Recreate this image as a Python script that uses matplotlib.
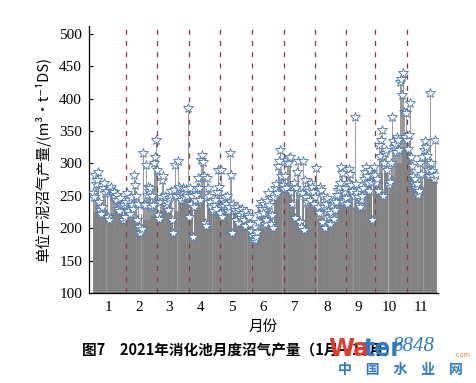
import numpy as np
import matplotlib.pyplot as plt

plt.switch_backend('Agg')
plt.rcParams['font.family'] = ['Noto Sans CJK SC', 'DejaVu Sans']

# daily biogas yield per dry solids, m3/t DS
jan = [255, 248, 282, 268, 275, 286, 240, 228, 222, 232, 262, 270, 255, 258, 218, 212,
       260, 264, 258, 250, 256, 248, 244, 252, 230, 226, 246, 236, 238, 212, 236]
feb = [218, 240, 254, 226, 244, 222, 248, 236, 230, 282, 266, 250, 212, 238, 202, 192,
       198, 316, 238, 236, 298, 252, 264, 258, 262, 232, 250, 236]
mar = [300, 310, 336, 290, 220, 214, 241, 248, 275, 280, 244, 250, 236, 240, 228, 246,
       252, 258, 212, 192, 259, 298, 249, 303, 264, 250, 244, 256, 262, 248, 254]
apr = [260, 250, 385, 218, 262, 238, 250, 187, 232, 244, 252, 262, 277, 262, 244, 305,
       313, 302, 280, 208, 204, 278, 262, 250, 240, 232, 226, 236, 244, 230]
may = [256, 290, 264, 223, 290, 218, 244, 234, 248, 238, 250, 226, 232, 316, 282, 192,
       238, 232, 228, 212, 233, 208, 228, 220, 216, 230, 224, 212, 204, 226, 220]
jun = [218, 206, 196, 188, 184, 190, 182, 186, 194, 210, 222, 232, 240, 230, 224, 238,
       206, 212, 242, 254, 236, 222, 206, 220, 200, 248, 262, 268, 254, 296]
jul = [304, 321, 280, 266, 260, 280, 262, 305, 300, 308, 310, 256, 238, 264, 270, 215,
       262, 287, 303, 256, 210, 202, 254, 303, 197, 275, 248, 240, 262, 258, 244]
aug = [269, 264, 256, 238, 248, 293, 232, 223, 264, 259, 210, 250, 232, 200, 238, 246,
       226, 218, 206, 224, 236, 242, 214, 228, 240, 252, 259, 264, 270, 295, 285]
sep = [240, 256, 262, 246, 238, 270, 292, 284, 266, 258, 250, 371, 268, 254, 248, 236,
       232, 244, 250, 262, 276, 286, 294, 280, 270, 258, 290, 272, 213, 282]
oct_ = [295, 282, 269, 276, 258, 329, 312, 336, 352, 249, 300, 316, 321, 290, 267, 272,
        300, 372, 334, 326, 330, 318, 340, 336, 320, 426, 431, 406, 439, 380, 340]
nov = [378, 336, 322, 344, 393, 310, 296, 280, 270, 276, 262, 268, 251, 258, 300, 284,
       310, 320, 334, 326, 312, 290, 280, 408, 300, 288, 280, 276, 336, 282]

# weekly level of the grey bars (7-day blocks, last block 5 days)
weekly = [226, 230, 224, 232, 228, 215, 222, 212, 220, 228, 232, 226, 252, 240, 232, 245,
          235, 230, 235, 228, 215, 205, 192, 200, 205, 255, 262, 258, 245, 232, 240, 215,
          205, 210, 240, 238, 232, 230, 255, 262, 285, 280, 300, 325, 278, 265, 280, 275]

month_labels = ['1', '2', '3', '4', '5', '6', '7', '8', '9', '10', '11']
month_days = [31, 28, 31, 30, 31, 30, 31, 31, 30, 31, 30]
divider_days = [33, 63, 94, 124, 155, 186, 216.5, 246.5, 275, 306]

daily = np.array(jan + feb + mar + apr + may + jun + jul + aug + sep + oct_ + nov, dtype=float)
days = np.arange(1, len(daily) + 1)
weekly = np.array(weekly, dtype=float)

fig = plt.figure(figsize=(4.76, 3.83), dpi=100)
ax = fig.add_axes([0.187, 0.235, 0.733, 0.697])

# weekly grey bars
week_start = np.arange(len(weekly)) * 7 + 0.5
week_width = np.minimum(7, len(daily) + 0.5 - week_start)
ax.bar(week_start, weekly - 100, width=week_width, bottom=100, align='edge',
       color='#979797', edgecolor='#b0b0b0', linewidth=0.6, zorder=1)

# daily stems
bar_level = weekly[(days - 1) // 7]
ax.vlines(days, 100, daily, color='#7d7d7d', linewidth=0.55, zorder=2)
low = daily < bar_level
ax.vlines(days[low], daily[low], bar_level[low], color='white', linewidth=0.7, zorder=2)

# month dividers
for d in divider_days:
    ax.axvline(d, color='#8a3a3a', linestyle=(0, (4, 5)), linewidth=0.9, zorder=3)

ax.plot(days, daily, linestyle='none', marker='*', markersize=7,
        markerfacecolor='white', markeredgecolor='#4a74b0', markeredgewidth=0.6, zorder=4)

ends = np.cumsum(month_days)
centers = ends - np.array(month_days) / 2 + 0.5
ax.set_xticks(centers)
ax.set_xticklabels(month_labels)
ax.set_xlim(-3, 336)
ax.set_ylim(100, 512)
ax.set_yticks(np.arange(100, 501, 50))
for lbl in ax.get_xticklabels() + ax.get_yticklabels():
    lbl.set_fontfamily('Liberation Serif')
    lbl.set_fontsize(11)
ax.tick_params(axis='both', direction='in', length=3, width=0.8, pad=5)
ax.tick_params(axis='x', length=0, pad=6)
ax.spines['top'].set_visible(False)
ax.spines['right'].set_visible(False)
ax.spines['left'].set_linewidth(0.9)
ax.spines['bottom'].set_linewidth(0.9)

ax.set_xlabel('月份', fontsize=10.5, labelpad=4)
ax.set_ylabel('单位干泥沼气产量/(m³·t⁻¹DS)', fontsize=10.5, labelpad=6)

# caption
fig.text(0.172, 0.086, '图7　2021年消化池月度沼气产量（1月—11月）', fontsize=10.5,
         fontweight='bold', va='center', ha='left')

# watermark (sits over the end of the caption, as in the source image)
fig.text(0.69, 0.09, 'Wa', color='#e23a2c', fontsize=17, fontweight='bold',
         family=['DejaVu Sans'], va='center', ha='left')
fig.text(0.765, 0.09, 'ter', color='#2e7bc4', fontsize=17, fontweight='bold',
         family=['DejaVu Sans'], va='center', ha='left')
fig.text(0.825, 0.095, '8848', color='#2e7bc4', fontsize=15, style='italic',
         family=['Liberation Serif'], va='center', ha='left')
fig.text(0.955, 0.072, '.com', color='#e08a2c', fontsize=5, va='center', ha='left')
fig.text(0.71, 0.035, '中　国　水　业　网', color='#2e7bc4', fontsize=10,
         fontweight='bold', va='center', ha='left')

fig.savefig('out.png', dpi=100)
plt.close(fig)
